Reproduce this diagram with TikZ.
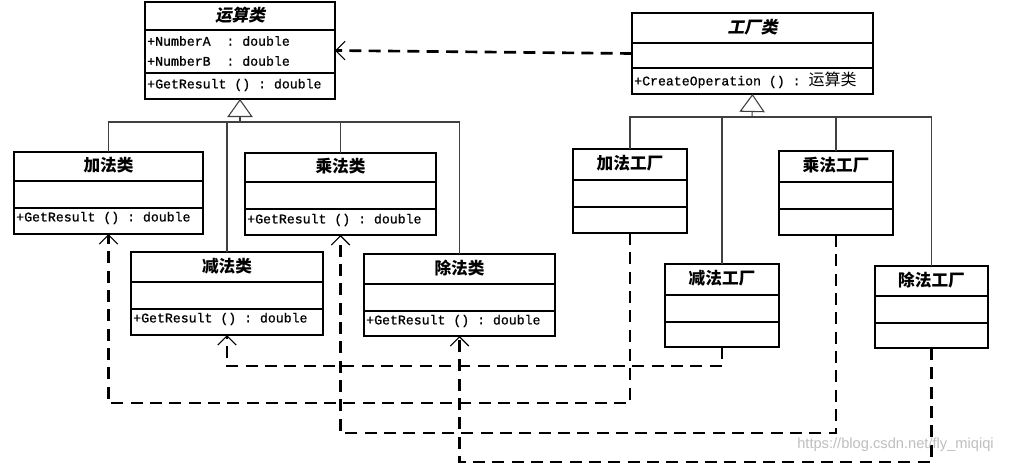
\documentclass[tikz,border=0pt]{standalone}
\usepackage{fontspec}
\setmonofont{Liberation Mono}[FakeBold=0.8]
\newfontfamily\cjk{Noto Sans CJK SC}
\newfontfamily\cjkit{Noto Sans CJK SC}[FakeSlant=0.2]
\newfontfamily\wmfont{Liberation Sans}
\usetikzlibrary{arrows.meta,calc}

\tikzset{
  clsbox/.style={draw=black, line width=1.1pt, rectangle, inner sep=0pt, outer sep=0pt},
  sepline/.style={line width=1pt},
  ttl/.style={font=\cjk\bfseries\fontsize{12.5}{14}\selectfont, inner sep=0pt},
  mem/.style={font=\ttfamily\fontsize{9.9}{11}\selectfont, anchor=west, inner sep=0pt},
  gen/.style={line width=0.8pt, draw=black!75},
  gentip/.style={-{Triangle[open,length=13.5pt,width=19pt,line width=0.8pt]}},
  dep/.style={line width=2pt, dash pattern=on 9pt off 5.5pt,
    -{Straight Barb[length=7pt,width=14pt,line width=0.8pt]}},
  wm/.style={font=\wmfont\fontsize{11}{13}\selectfont, text=black!25, anchor=west, inner sep=0pt}
}

% #1 name, #2 x1, #3 y1, #4 x2, #5 y2, #6 sep1, #7 sep2, #8 title
\newcommand{\umlclass}[8]{%
  \node[clsbox, minimum width={(#4-#2)*0.75pt}, minimum height={(#5-#3)*0.75pt}]
    (#1) at ({(#2+#4)/2},{(#3+#5)/2}) {};
  \draw[sepline] (#2,#6) -- (#4,#6);
  \draw[sepline] (#2,#7) -- (#4,#7);
  \node[ttl] (#1-t) at ({(#2+#4)/2},{(#3+#6)/2-1}) {#8};
}

\begin{document}
\begin{tikzpicture}[x=0.75pt,y=-0.75pt]
\fill[white] (0,0) rectangle (1017,464);
\useasboundingbox (0,0) rectangle (1017,464);

% operation classes
\umlclass{op}{145}{2}{335}{99}{30}{73}{\cjkit 运算类}
\node[mem] (opa) at (147,41) {+NumberA~~: double};
\node[mem] (opb) at (147,61) {+NumberB~~: double};
\node[mem] (opm) at (147,85) {+GetResult () : double};

\umlclass{add}{14}{152}{203}{234}{181}{208}{加法类}
\node[mem] (addm) at (16,218) {+GetResult () : double};
\umlclass{mul}{245}{153}{436}{235}{182}{209}{乘法类}
\node[mem] (mulm) at (247,220) {+GetResult () : double};
\umlclass{sub}{131}{252}{323}{335}{282}{309}{减法类}
\node[mem] (subm) at (133,319) {+GetResult () : double};
\umlclass{div}{364}{254}{555}{336}{284}{311}{除法类}
\node[mem] (divm) at (366,321) {+GetResult () : double};

% factory classes
\umlclass{fac}{632}{13}{873}{94}{43}{68}{\cjkit 工厂类}
\node[mem] (facm) at (634,80) {+CreateOperation () : {\cjk\fontsize{12}{14}\selectfont 运算类}};

\umlclass{addf}{573}{149}{687}{233}{180}{207}{加法工厂}
\umlclass{mulf}{779}{151}{893}{235}{182}{209}{乘法工厂}
\umlclass{subf}{665}{264}{779}{347}{295}{322}{减法工厂}
\umlclass{divf}{875}{266}{988}{348}{296}{323}{除法工厂}

% generalization: operations
\coordinate (jo) at (240,122);
\draw[gen] (add.north) |- (div.north |- jo) -- (div.north);
\draw[gen] (sub.north) -- (sub.north |- jo);
\draw[gen] (mul.north) -- (mul.north |- jo);
\draw[gen, gentip] (jo) -- (op.south);

% generalization: factories
\coordinate (jf) at (752,117);
\draw[gen] (addf.north) |- (divf.north |- jf) -- (divf.north);
\draw[gen] (subf.north) -- (subf.north |- jf);
\draw[gen] (mulf.north) -- (mulf.north |- jf);
\draw[gen, gentip] (jf) -- (fac.south);

% dependencies
\draw[dep] (fac.west) -- (op.east);
\draw[dep] (subf.south) -- ++(0,19) -| (sub.south);
\draw[dep] (addf.south) -- ++(0,170) -| (add.south);
\draw[dep] (mulf.south) -- ++(0,198) -| (mul.south);
\draw[dep] (divf.south) -- ++(0,114) -| (div.south);

% watermark
\node[wm] (wmark) at (797,445) {https://blog.csdn.net/fly\_miqiqi};
\end{tikzpicture}
\end{document}
